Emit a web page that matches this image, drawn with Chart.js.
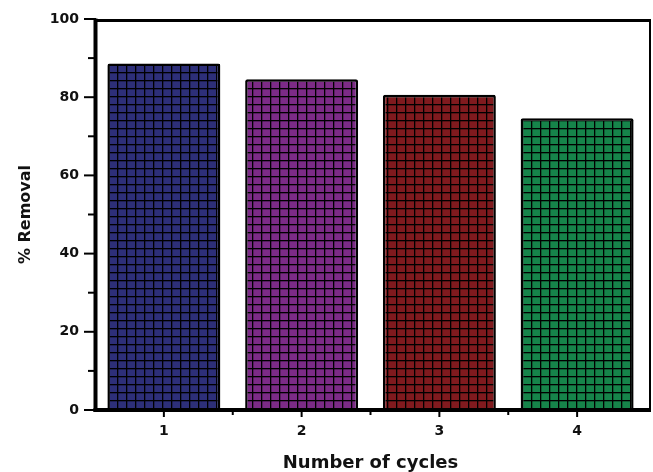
<!DOCTYPE html>
<html lang="en">
<head>
  <meta charset="UTF-8" />
  <title>% Removal vs cycles</title>
  <style>
    body { margin: 0; background: white; }
    #wrap { width: 653px; height: 472px; }
  </style>
</head>
<body>
  <div id="wrap"><canvas id="chart"></canvas></div>

  <script src="https://cdn.jsdelivr.net/npm/chart.js"></script>
  <script>
    const cycles = ['1', '2', '3', '4'];
    const removal = [88.6, 84.6, 80.6, 74.6];
    const barColors = ['#2d2f78', '#7c2b87', '#801a1e', '#16844a'];
    const yTicks = [0, 20, 40, 60, 80, 100];

    const canvas = document.getElementById('chart');
    const ctx = canvas.getContext('2d');

    // grid (crosshatch) fill like the original plot
    function makePattern(color) {
      const c = document.createElement('canvas');
      c.width = 9; c.height = 8;
      const g = c.getContext('2d');
      g.fillStyle = color;
      g.fillRect(0, 0, 9, 8);
      g.fillStyle = '#000';
      g.fillRect(0, 0, 9, 1);
      g.fillRect(0, 0, 1, 8);
      g.fillStyle = 'rgba(0,0,0,0.3)';
      g.fillRect(0, 1, 9, 1);
      g.fillRect(1, 0, 1, 8);
      return ctx.createPattern(c, 'repeat');
    }

    const font = { family: 'DejaVu Sans', weight: 'bold' };

    // frame + tick marks
    const framePlugin = {
      id: 'frame',
      afterDraw(chart) {
        const { left, right, top, bottom } = chart.chartArea;
        const x = chart.scales.x, y = chart.scales.y;
        const c = chart.ctx;
        c.save();
        c.strokeStyle = '#000';
        c.lineCap = 'square';
        // ticks on y
        c.lineWidth = 2;
        for (let v = 0; v <= 100; v += 10) {
          const py = y.getPixelForValue(v);
          const len = v % 20 === 0 ? 10 : 6;
          c.beginPath(); c.moveTo(left - len, py); c.lineTo(left, py); c.stroke();
        }
        // ticks on x
        for (let i = 0; i < cycles.length; i++) {
          const px = x.getPixelForValue(i);
          c.beginPath(); c.moveTo(px, bottom); c.lineTo(px, bottom + 6); c.stroke();
          if (i < cycles.length - 1) {
            const mx = (px + x.getPixelForValue(i + 1)) / 2;
            c.beginPath(); c.moveTo(mx, bottom); c.lineTo(mx, bottom + 4); c.stroke();
          }
        }
        c.lineCap = 'butt';
        // top & right
        c.lineWidth = 3;
        c.beginPath(); c.moveTo(left, top + 1.5); c.lineTo(right + 5, top + 1.5); c.stroke();
        c.lineWidth = 2;
        c.beginPath(); c.moveTo(right + 4, top); c.lineTo(right + 4, bottom); c.stroke();
        // left & bottom (thick)
        c.lineWidth = 4;
        c.beginPath(); c.moveTo(left + 0.5, top - 0.5); c.lineTo(left + 0.5, bottom + 2); c.stroke();
        c.beginPath(); c.moveTo(left - 1.5, bottom); c.lineTo(right + 5, bottom); c.stroke();
        c.restore();
      }
    };

    new Chart(ctx, {
      type: 'bar',
      data: {
        labels: cycles,
        datasets: [{
          data: removal,
          backgroundColor: barColors.map(makePattern),
          borderColor: '#000',
          borderWidth: 2.5,
          borderRadius: 2,
          borderSkipped: 'bottom',
          barPercentage: 0.82,
          categoryPercentage: 1
        }]
      },
      options: {
        responsive: true,
        maintainAspectRatio: false,
        animation: false,
        layout: { padding: { top: 19, right: 7, left: 0, bottom: 0 } },
        plugins: { legend: { display: false }, tooltip: { enabled: false } },
        scales: {
          x: {
            grid: { display: false, drawTicks: false },
            border: { display: false },
            ticks: { color: '#111', font: { ...font, size: 14 }, padding: 13 },
            title: {
              display: true, text: 'Number of cycles', color: '#111',
              font: { ...font, size: 18, lineHeight: 1 }, padding: { top: 0, bottom: 0 }
            },
            afterFit(s) { s.height = 62; s.paddingLeft = 0; s.paddingRight = 0; }
          },
          y: {
            min: 0, max: 100,
            afterBuildTicks(s) { s.ticks = yTicks.map(v => ({ value: v })); },
            grid: { display: false, drawTicks: false },
            border: { display: false },
            ticks: { color: '#111', font: { ...font, size: 14 }, padding: 16 },
            title: {
              display: true, text: '% Removal', color: '#111',
              font: { ...font, size: 16, lineHeight: 1 }, padding: { top: 18, bottom: 0 }
            },
            afterFit(s) { s.width = 95; s.paddingTop = 0; s.paddingBottom = 0; }
          }
        }
      },
      plugins: [framePlugin]
    });
  </script>
</body>
</html>
